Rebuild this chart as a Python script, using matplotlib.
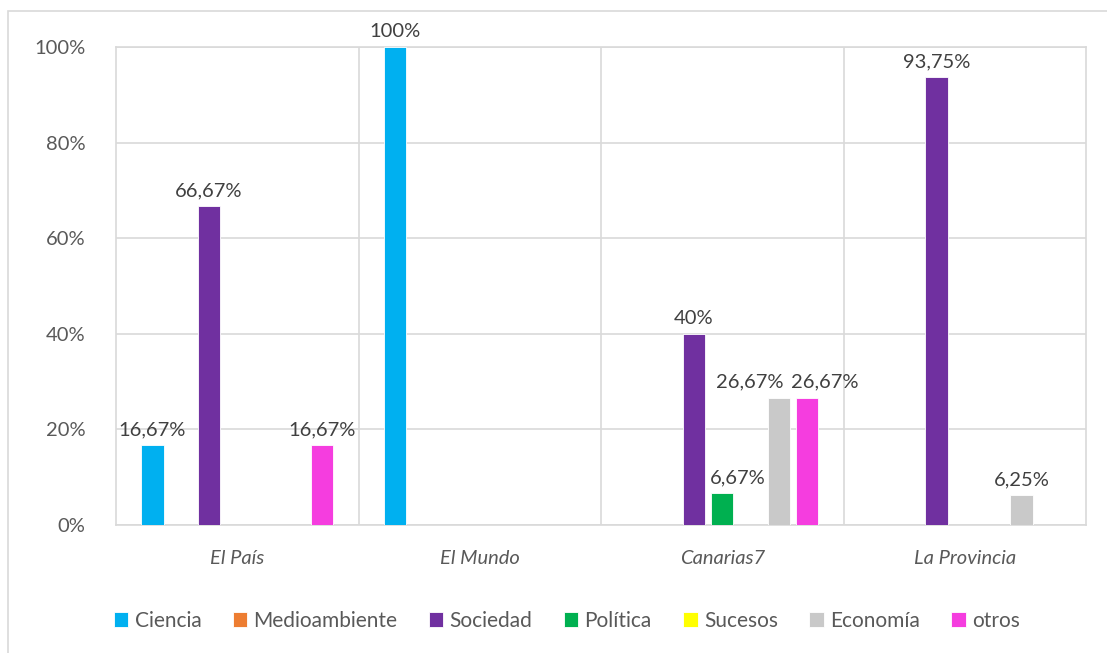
import matplotlib.pyplot as plt
from matplotlib.patches import Rectangle
from matplotlib.ticker import FuncFormatter
import numpy as np

plt.rcParams['font.family'] = ['Lato', 'DejaVu Sans']

diarios = ["El País", "El Mundo", "Canarias7", "La Provincia"]
temas = ["Ciencia", "Medioambiente", "Sociedad", "Política", "Sucesos", "Economía", "otros"]
colores = ["#00b0f0", "#ed7d31", "#7030a0", "#00b050", "#ffff00", "#c9c9c9", "#f53ddf"]

ciencia = [16.67, 100, 0, 0]
medioambiente = [0, 0, 0, 0]
sociedad = [66.67, 0, 40, 93.75]
politica = [0, 0, 6.67, 0]
sucesos = [0, 0, 0, 0]
economia = [0, 0, 26.67, 6.25]
otros = [16.67, 0, 26.67, 0]
series = [ciencia, medioambiente, sociedad, politica, sucesos, economia, otros]

# desplazamientos de etiquetas (puntos) para que no se pisen, como en Excel
desplaza = {(3, 2): 11, (5, 2): -21, (6, 2): 13}

def etiqueta(v):
    if abs(v - round(v)) < 1e-9:
        return f"{int(round(v))}%"
    return f"{v:.2f}".replace(".", ",") + "%"

fig = plt.figure(figsize=(11.07, 6.53), dpi=100)
fig.patches.append(Rectangle((8 / 1107, -0.01), 1.1, 1 - 11 / 653 + 0.01, transform=fig.transFigure,
                             fill=False, edgecolor="#d9d9d9", linewidth=1.2))
ax = fig.add_axes([116 / 1107, 1 - 525 / 653, (1086 - 116) / 1107, (525 - 47) / 653])

x = np.arange(len(diarios))
slot = 0.1167
ancho = 0.092
txt = "#404040"
for i, (nombre, vals, col) in enumerate(zip(temas, series, colores)):
    pos = x + (i - 3) * slot
    ax.bar(pos, vals, ancho, color=col, edgecolor="white", linewidth=0.6, label=nombre, zorder=3)
    for j, (p, v) in enumerate(zip(pos, vals)):
        if v > 0:
            ax.annotate(etiqueta(v), (p, v), xytext=(desplaza.get((i, j), 0), 5),
                        textcoords="offset points", ha="center", va="bottom",
                        fontsize=14.5, color=txt, zorder=4)

ax.set_xlim(-0.5, 3.5)
ax.set_ylim(0, 100)
ax.set_yticks(range(0, 101, 20))
ax.yaxis.set_major_formatter(FuncFormatter(lambda v, _: f"{int(v)}%"))
ax.set_xticks(x)
ax.set_xticklabels(diarios, fontstyle="italic")
ax.tick_params(axis="both", length=0, labelsize=14.5, labelcolor="#595959")
ax.tick_params(axis="x", pad=18)
ax.tick_params(axis="y", pad=22)
ax.grid(axis="y", color="#d9d9d9", linewidth=1.2, zorder=0)
for b in [0.5, 1.5, 2.5]:
    ax.axvline(b, color="#d9d9d9", linewidth=1.2, zorder=0)
for s in ax.spines.values():
    s.set_color("#d9d9d9")
    s.set_linewidth(1.2)

fig.legend(loc="center", bbox_to_anchor=(0.512, 1 - 621 / 653), ncol=7, frameon=False,
           fontsize=15, handlelength=0.7, handleheight=0.7, handletextpad=0.3,
           columnspacing=1.5, labelcolor="#595959")

fig.savefig("out.png", dpi=100)
